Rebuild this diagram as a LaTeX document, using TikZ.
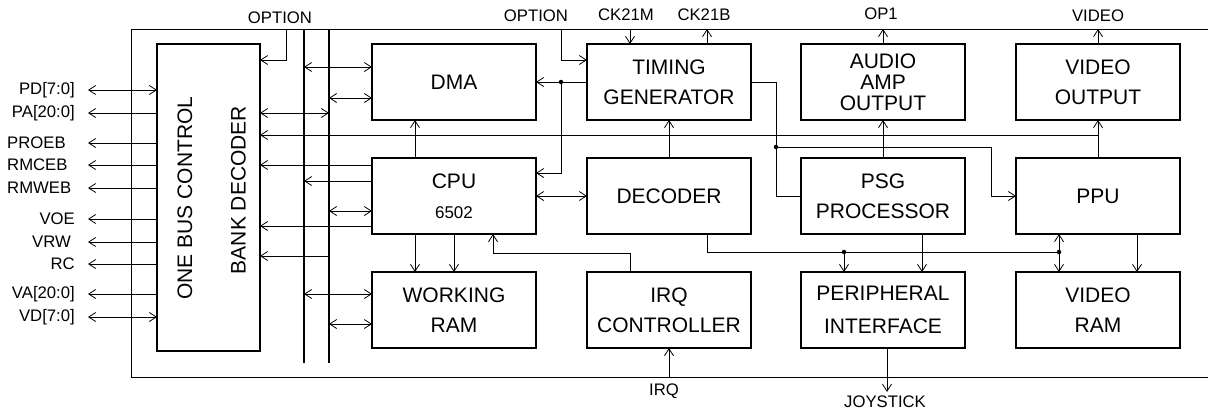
\documentclass[tikz,border=0pt]{standalone}
\usepackage{fontspec}
\setmainfont{Liberation Sans}
\usetikzlibrary{arrows.meta,positioning}

\begin{document}
\begin{tikzpicture}[x=1bp, y=-1bp,
      blk/.style={draw, line width=1.6bp, outer sep=0pt, inner sep=0pt,
                  minimum width=164bp, minimum height=76bp,
                  font=\fontsize{21bp}{30bp}\selectfont, align=center},
      txt/.style={inner sep=0pt, font=\fontsize{21bp}{30bp}\selectfont},
      lbl/.style={inner sep=0pt, font=\fontsize{16.7bp}{20bp}\selectfont},
      bus/.style={line width=1.6bp},
      wire/.style={line width=0.8bp},
      arr/.style={wire, -{Straight Barb[length=7bp,width=9bp]}},
      darr/.style={wire, {Straight Barb[length=7bp,width=9bp]}-{Straight Barb[length=7bp,width=9bp]}},
      dot/.style={circle, fill, inner sep=0pt, minimum size=4.5bp}
  ]
    \useasboundingbox (0,0) rectangle (1208,412);
    \coordinate (ftop) at (131,29);
    \coordinate (fbot) at (131,377);
    \coordinate (fend) at (1208,0);
    \coordinate (pins) at (88,0);
    \coordinate (busA) at (304,29);
    \coordinate (busB) at (329,29);
    \draw[wire] (ftop -| fend) -- (ftop) -- (fbot) -- (fbot -| fend);
    \draw[bus] (busA) -- ++(0,334);
    \draw[bus] (busB) -- ++(0,334);

    \node[blk, minimum width=103bp, minimum height=307bp] (obc) at (208.5,197.5) {};
    \node[txt, rotate=90] (obcA) at (185,198) {ONE BUS CONTROL};
    \node[txt, rotate=90] (obcB) at (238.5,190) {BANK DECODER};

    \node[blk] (dma) at (454,82) {DMA};
    \node[blk, right=51bp of dma] (tg) {TIMING\\GENERATOR};
    \node[blk, right=50bp of tg, font=\fontsize{21bp}{21bp}\selectfont] (aud) {AUDIO\\AMP\\OUTPUT};
    \node[blk, right=51bp of aud] (vout) {VIDEO\\OUTPUT};
    \node[blk, below=38bp of dma] (cpu) {CPU\\{\fontsize{17bp}{20bp}\selectfont 6502}};
    \node[blk, below=38bp of tg] (dec) {DECODER};
    \node[blk, below=38bp of aud] (psg) {PSG\\PROCESSOR};
    \node[blk, below=38bp of vout] (ppu) {PPU};
    \node[blk, below=38bp of cpu] (wram) {WORKING\\RAM};
    \node[blk, below=38bp of dec] (irq) {IRQ\\CONTROLLER};
    \node[blk, below=38bp of psg] (pif) {PERIPHERAL\\[3bp]INTERFACE};
    \node[blk, below=38bp of ppu] (vram) {VIDEO\\RAM};

    \node[lbl, anchor=east] (pd) at (75,90) {PD[7:0]};
    \node[lbl, anchor=east] (pa) at (75,113) {PA[20:0]};
    \node[lbl, anchor=west] (proeb) at (7,143) {PROEB};
    \node[lbl, anchor=west] (rmceb) at (7,165) {RMCEB};
    \node[lbl, anchor=west] (rmweb) at (7,188) {RMWEB};
    \node[lbl, anchor=east] (voe) at (75,219) {VOE};
    \node[lbl, anchor=east] (vrw) at (71,242) {VRW};
    \node[lbl, anchor=east] (rc) at (75,264) {RC};
    \node[lbl, anchor=east] (va) at (75,294) {VA[20:0]};
    \node[lbl, anchor=east] (vd) at (75,317) {VD[7:0]};

    \node[lbl] (optA) at (280,18) {OPTION};
    \node[lbl] (optB) at (536,16) {OPTION};
    \node[lbl] (ck21m) at (626,15) {CK21M};
    \node[lbl] (ck21b) at (704,15) {CK21B};
    \node[lbl] (op1) at (881,14) {OP1};
    \node[lbl] (video) at (1098,16) {VIDEO};
    \node[lbl] (irqin) at (664,391) {IRQ};
    \node[lbl, inner ysep=4bp] (joy) at (885,402) {JOYSTICK};

    \node[dot] (j1) at ([xshift=-26bp]tg.west) {};
    \node[dot] (j2) at ([xshift=25bp,yshift=-65bp]tg.east) {};
    \node[dot] (j3) at ([xshift=-39bp,yshift=20bp]pif.north) {};
    \node[dot] (j4) at ([xshift=-39bp,yshift=20bp]vram.north) {};

    \draw[darr] (pins |- pd) -- (obc.west |- pd);
    \draw[arr] (obc.west |- pa) -- (pins |- pa);
    \draw[arr] (obc.west |- proeb) -- (pins |- proeb);
    \draw[arr] (obc.west |- rmceb) -- (pins |- rmceb);
    \draw[arr] (obc.west |- rmweb) -- (pins |- rmweb);
    \draw[arr] (obc.west |- voe) -- (pins |- voe);
    \draw[arr] (obc.west |- vrw) -- (pins |- vrw);
    \draw[arr] (obc.west |- rc) -- (pins |- rc);
    \draw[arr] (obc.west |- va) -- (pins |- va);
    \draw[darr] (pins |- vd) -- (obc.west |- vd);

    \draw[arr] ([xshift=26bp]obc.north east |- ftop) |- ([yshift=-16bp]obc.north east);
    \draw[darr] (obc.east |- pa) -- (busB |- pa);
    \draw[darr] ([yshift=15bp]dma.west -| busA) -- ([yshift=15bp]dma.west);
    \draw[darr] ([yshift=-16bp]dma.west -| busB) -- ([yshift=-16bp]dma.west);
    \draw[arr] ([yshift=-15bp]vout.south) -- ([yshift=-15bp]vout.south -| obc.east);
    \draw[arr] ([yshift=31bp]cpu.west) -- ([yshift=31bp]cpu.west -| obc.east);
    \draw[arr] ([yshift=15bp]cpu.west) -- ([yshift=15bp]cpu.west -| busA);
    \draw[darr] ([yshift=-15bp]cpu.west -| busB) -- ([yshift=-15bp]cpu.west);
    \draw[arr] ([yshift=-30bp]cpu.west) -- ([yshift=-30bp]cpu.west -| obc.east);
    \draw[arr] ([yshift=16bp]wram.north west -| busB) -- ([yshift=16bp]wram.north west -| obc.east);
    \draw[darr] ([yshift=16bp]wram.west -| busA) -- ([yshift=16bp]wram.west);
    \draw[darr] ([yshift=-14bp]wram.west -| busB) -- ([yshift=-14bp]wram.west);

    \draw[arr] (tg.west) -- (dma.east);
    \draw[arr] (j1.center) |- ([yshift=23bp]cpu.east);
    \draw[arr] (j1 |- ftop) |- ([yshift=22bp]tg.west);
    \draw[arr] ([xshift=-39bp]tg.north |- ftop) -- ([xshift=-39bp]tg.north);
    \draw[arr] ([xshift=38bp]tg.north) -- ([xshift=38bp]tg.north |- ftop);
    \draw[arr] (dec.north) -- (tg.south);
    \draw[arr] ([xshift=-39bp]cpu.north) -- ([xshift=-39bp]dma.south);
    \draw[darr] (cpu.east) -- (dec.west);
    \draw[wire] (tg.east) -| (j2.center) |- (psg.west);
    \draw[arr] (j2.center) -| ([xshift=-25bp]ppu.west) -- (ppu.west);
    \draw[arr] (psg.north) -- (aud.south);
    \draw[arr] (aud.north) -- (aud.north |- ftop);
    \draw[arr] (vout.north) -- (vout.north |- ftop);
    \draw[arr] (ppu.north) -- (vout.south);

    \draw[arr] ([xshift=-39bp]cpu.south) -- ([xshift=-39bp]wram.north);
    \draw[arr] (cpu.south) -- (wram.north);
    \draw[arr] ([xshift=-39bp]irq.north) |- ([xshift=39bp,yshift=-19bp]cpu.south) -- ([xshift=39bp]cpu.south);
    \draw[arr] (irq.south |- fbot) -- (irq.south);
    \draw[wire] ([xshift=38bp]dec.south) |- (j4.center);
    \draw[arr] (j3.center) -- ([xshift=-39bp]pif.north);
    \draw[arr] ([xshift=39bp]psg.south) -- ([xshift=39bp]pif.north);
    \draw[darr] ([xshift=-39bp]ppu.south) -- ([xshift=-39bp]vram.north);
    \draw[arr] ([xshift=39bp]ppu.south) -- ([xshift=39bp]vram.north);
    \draw[arr] ([xshift=4bp]pif.south) -- ([xshift=4bp]pif.south |- joy.north);
  \end{tikzpicture}
\end{document}
